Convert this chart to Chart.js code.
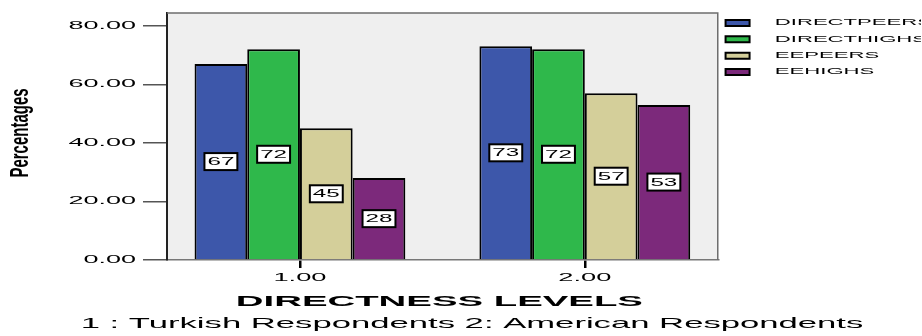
<!DOCTYPE html>
<html>
<head>
<meta charset="utf-8">
<script src="https://cdn.jsdelivr.net/npm/chart.js@4"></script>
<style>
  html, body { margin: 0; padding: 0; background: #fff; }
</style>
</head>
<body>
<canvas id="c" width="922" height="336"></canvas>
<script>
// Directness levels (1 = Turkish, 2 = American respondents)
const levels = [1, 2];
const levelTicks = [1, 2];
const valueTicks = [0, 20, 40, 60, 80];

const seriesNames = ['DIRECTPEERS', 'DIRECTHIGHS', 'EEPEERS', 'EEHIGHS'];
const directPeers = [67, 73];
const directHighs = [72, 72];
const eePeers = [45, 57];
const eeHighs = [28, 53];
const seriesColors = ['#3d57aa', '#2fb84b', '#d4cf9a', '#7c297b'];

const seriesValues = [directPeers, directHighs, eePeers, eeHighs];
const FONT = '"Liberation Sans", Arial, sans-serif';

// Wide lettering: each text style is drawn horizontally stretched about its anchor.
// Key = weight flag + font size in px.
const STRETCH = {
  'n10':   { k: 2.7,  dx: 0,    dy: 0 },    // value axis ticks
  'n10.5': { k: 2.6,  dx: 0,    dy: 0 },    // level axis ticks
  'n8.5':  { k: 2.6,  dx: 21,   dy: 0 },    // legend labels
  'n11':   { k: 2.2,  dx: 0,    dy: 0 },    // bar value boxes
  'b14':   { k: 2.74, dx: -3,   dy: 0 },    // x axis title
  'n15':   { k: 2.31, dx: 11.5, dy: 0 },    // footnote
  'b15':   { k: 1.75, dx: 0,    dy: -3.5 }  // y axis title
};
function styleOf(font) {
  const m = /([\d.]+)px/.exec(font);
  if (!m) return null;
  const bold = /bold|[6-9]00/.test(font);
  return STRETCH[(bold ? 'b' : 'n') + parseFloat(m[1])] || null;
}

const canvas = document.getElementById('c');
const ctx = canvas.getContext('2d');
const fillText0 = ctx.fillText;
ctx.fillText = function (text, x, y) {
  const s = styleOf(this.font);
  if (!s) return fillText0.call(this, text, x, y);
  const m = this.getTransform();
  const p = m.transformPoint(new DOMPoint(x, y));
  this.save();
  this.setTransform(new DOMMatrix()
    .translate(p.x + s.dx, p.y + s.dy).scale(s.k, 1).translate(-p.x, -p.y)
    .multiply(m));
  fillText0.call(this, text, x, y);
  this.restore();
};
const measureText0 = ctx.measureText;
ctx.measureText = function (text) {
  const r = measureText0.call(this, text);
  const s = styleOf(this.font);
  if (!s) return r;
  return {
    width: r.width * s.k,
    actualBoundingBoxLeft: r.actualBoundingBoxLeft * s.k,
    actualBoundingBoxRight: r.actualBoundingBoxRight * s.k,
    actualBoundingBoxAscent: r.actualBoundingBoxAscent,
    actualBoundingBoxDescent: r.actualBoundingBoxDescent
  };
};

// Grey plot panel with a thin frame on top and right
const plotFrame = {
  id: 'plotFrame',
  beforeDraw(chart) {
    const { left, top, right, bottom } = chart.chartArea;
    const c = chart.ctx;
    c.save();
    c.fillStyle = '#efefef';
    c.fillRect(left, top, right - left, bottom - top);
    c.restore();
  },
  beforeDatasetsDraw(chart) {
    const { left, top, right, bottom } = chart.chartArea;
    const c = chart.ctx;
    c.save();
    c.strokeStyle = '#6e6e6e';
    c.lineWidth = 1.5;
    c.beginPath();
    c.moveTo(left, top);
    c.lineTo(right, top);
    c.lineTo(right, bottom);
    c.stroke();
    c.restore();
  }
};

// Boxed value label in the middle of every bar
const valueBoxes = {
  id: 'valueBoxes',
  afterDatasetsDraw(chart) {
    const c = chart.ctx;
    c.save();
    c.font = '11px ' + FONT;
    c.textAlign = 'center';
    c.textBaseline = 'middle';
    chart.data.datasets.forEach((ds, i) => {
      chart.getDatasetMeta(i).data.forEach((bar, j) => {
        const text = String(Math.round(ds.data[j].y));
        const { x, y } = bar.getCenterPoint();
        const w = c.measureText(text).width + 6;
        const h = 17;
        c.fillStyle = '#fff';
        c.fillRect(x - w / 2, y - h / 2, w, h);
        c.strokeStyle = '#000';
        c.lineWidth = 2;
        c.strokeRect(x - w / 2, y - h / 2, w, h);
        c.fillStyle = '#000';
        c.fillText(text, x, y + 0.5);
      });
    });
    c.restore();
  }
};

new Chart(ctx, {
  type: 'bar',
  data: {
    datasets: seriesNames.map((name, i) => ({
      label: name,
      data: levels.map((lv, j) => ({ x: lv, y: seriesValues[i][j] })),
      backgroundColor: seriesColors[i],
      borderColor: '#000',
      borderWidth: 2,
      borderSkipped: 'start'
    }))
  },
  options: {
    responsive: false,
    animation: false,
    events: [],
    layout: { padding: { top: 11, right: 1, bottom: 3, left: 0 } },
    datasets: { bar: { categoryPercentage: 0.74, barPercentage: 1 } },
    scales: {
      x: {
        type: 'linear',
        min: 0.5333,
        max: 2.4667,
        offset: false,
        afterBuildTicks: (s) => { s.ticks = levelTicks.map(v => ({ value: v })); },
        ticks: {
          callback: (v) => Number(v).toFixed(2),
          font: { family: FONT, size: 10.5 },
          color: '#000',
          padding: 3.7,
          maxRotation: 0,
          autoSkip: false
        },
        grid: { display: true, drawOnChartArea: false, drawTicks: true, tickLength: 8, color: '#000', lineWidth: 2.5, offset: false },
        border: { display: true, color: '#777', width: 1.5 },
        title: {
          display: true,
          text: 'DIRECTNESS LEVELS',
          font: { family: FONT, size: 14, weight: 'bold' },
          color: '#000',
          padding: { top: 5.3, bottom: 4.9 }
        }
      },
      y: {
        type: 'linear',
        min: 0,
        max: 84.4,
        afterBuildTicks: (s) => { s.ticks = valueTicks.map(v => ({ value: v })); },
        afterFit: (s) => { s.width = 167; },
        ticks: {
          callback: (v) => Number(v).toFixed(2),
          font: { family: FONT, size: 10 },
          color: '#000',
          padding: 7
        },
        grid: { drawOnChartArea: false, drawTicks: true, tickLength: 24, color: '#555', lineWidth: 1.5 },
        border: { display: true, color: '#222', width: 2 },
        title: {
          display: true,
          text: 'Percentages',
          font: { family: FONT, size: 15, weight: 'bold' },
          color: '#000',
          padding: { top: 12.2, bottom: 0 }
        }
      }
    },
    plugins: {
      legend: {
        position: 'right',
        align: 'start',
        labels: {
          boxWidth: 24,
          boxHeight: 6,
          padding: 7.8,
          font: { family: FONT, size: 8.5 },
          color: '#000'
        }
      },
      title: {
        display: true,
        position: 'bottom',
        text: '1 : Turkish Respondents 2: American Respondents',
        font: { family: FONT, size: 15, weight: 'normal' },
        color: '#000',
        padding: 0
      },
      tooltip: { enabled: false }
    }
  },
  plugins: [plotFrame, valueBoxes]
});
</script>
</body>
</html>
